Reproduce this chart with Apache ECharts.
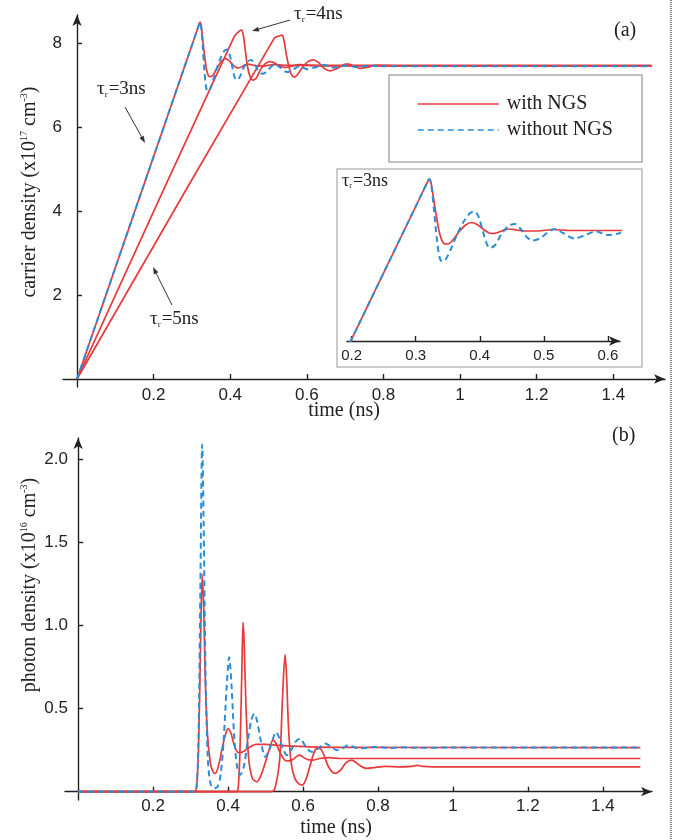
<!DOCTYPE html>
<html><head><meta charset="utf-8">
<script src="https://cdn.jsdelivr.net/npm/echarts@6/dist/echarts.min.js"></script>
<style>html,body{margin:0;padding:0;background:#fff}#c{width:685px;height:840px}</style>
</head><body><div id="c"></div>
<script>
// ---- tick labels ----
const timeTicks = [0.2, 0.4, 0.6, 0.8, 1, 1.2, 1.4];
const insetTicks = [0.2, 0.3, 0.4, 0.5, 0.6];
const carrierTicks = [2, 4, 6, 8];
const photonTicks = [0.5, 1.0, 1.5, 2.0];

// ---- (a) carrier density (x10^17 cm^-3) vs time (ns) ----
const carrier3nsNGS = [[0,0],[0.30,7.95],[0.312,8.27],[0.318,8.43],[0.321,8.5],[0.324,8.42],[0.328,8.1],[0.333,7.7],[0.338,7.38],[0.344,7.21],[0.35,7.2],[0.358,7.28],[0.368,7.45],[0.378,7.58],[0.387,7.63],[0.396,7.59],[0.405,7.5],[0.412,7.44],[0.418,7.41],[0.426,7.42],[0.436,7.47],[0.447,7.5],[0.458,7.48],[0.47,7.46],[0.49,7.46],[0.515,7.49],[0.54,7.47],[0.6,7.47],[0.8,7.47],[1.5,7.47]];
const carrier3nsNoNGS = [[0,0],[0.30,7.95],[0.312,8.27],[0.318,8.43],[0.321,8.5],[0.324,8.4],[0.328,7.95],[0.333,7.3],[0.337,6.95],[0.341,6.85],[0.347,6.9],[0.355,7.1],[0.365,7.4],[0.375,7.65],[0.385,7.82],[0.392,7.85],[0.398,7.75],[0.405,7.45],[0.411,7.2],[0.416,7.12],[0.424,7.18],[0.434,7.4],[0.445,7.56],[0.455,7.6],[0.464,7.5],[0.474,7.33],[0.483,7.27],[0.495,7.32],[0.507,7.44],[0.517,7.5],[0.53,7.42],[0.548,7.31],[0.565,7.38],[0.582,7.45],[0.6,7.38],[0.62,7.42],[0.645,7.48],[0.67,7.42],[0.7,7.47],[0.73,7.43],[0.76,7.46],[0.8,7.45],[1.5,7.45]];
const carrier4nsNGS = [[0,0],[0.41,8.15],[0.422,8.27],[0.429,8.31],[0.434,8.2],[0.439,7.85],[0.445,7.45],[0.452,7.2],[0.46,7.12],[0.468,7.17],[0.478,7.35],[0.49,7.5],[0.503,7.56],[0.515,7.53],[0.53,7.45],[0.545,7.42],[0.56,7.45],[0.58,7.49],[0.6,7.48],[0.63,7.46],[1.5,7.46]];
const carrier5nsNGS = [[0,0],[0.515,8.12],[0.528,8.17],[0.535,8.19],[0.54,8.08],[0.546,7.75],[0.553,7.45],[0.56,7.25],[0.567,7.19],[0.575,7.24],[0.588,7.42],[0.603,7.56],[0.617,7.6],[0.63,7.54],[0.645,7.4],[0.661,7.34],[0.68,7.4],[0.7,7.5],[0.71,7.5],[0.725,7.44],[0.74,7.4],[0.76,7.43],[0.78,7.47],[0.85,7.46],[1.5,7.46]];

// ---- (b) photon density (x10^16 cm^-3) vs time (ns) ----
const photon3nsNGS = [[0,0],[0.31,0],[0.316,0.03],[0.321,0.25],[0.326,0.8],[0.331,1.31],[0.335,1.1],[0.339,0.7],[0.345,0.35],[0.353,0.17],[0.36,0.12],[0.366,0.11],[0.375,0.16],[0.385,0.27],[0.394,0.35],[0.40,0.38],[0.408,0.35],[0.418,0.27],[0.428,0.235],[0.44,0.24],[0.455,0.265],[0.475,0.285],[0.5,0.285],[0.53,0.28],[0.57,0.275],[0.62,0.27],[0.7,0.267],[1.5,0.266]];
const photon3nsNoNGS = [[0,0],[0.31,0],[0.316,0.03],[0.321,0.3],[0.326,1.2],[0.331,2.09],[0.335,1.6],[0.34,0.7],[0.346,0.2],[0.353,0.05],[0.362,0.02],[0.372,0.03],[0.38,0.1],[0.388,0.3],[0.396,0.62],[0.403,0.81],[0.409,0.65],[0.416,0.35],[0.424,0.15],[0.432,0.1],[0.442,0.15],[0.452,0.3],[0.462,0.43],[0.47,0.47],[0.478,0.42],[0.488,0.3],[0.499,0.21],[0.51,0.25],[0.52,0.32],[0.528,0.36],[0.537,0.32],[0.548,0.25],[0.557,0.22],[0.568,0.25],[0.58,0.3],[0.592,0.32],[0.605,0.28],[0.622,0.24],[0.64,0.26],[0.659,0.29],[0.675,0.27],[0.69,0.25],[0.705,0.26],[0.72,0.28],[0.735,0.27],[0.75,0.26],[0.77,0.265],[0.8,0.27],[0.83,0.262],[0.86,0.268],[0.9,0.264],[1.0,0.266],[1.5,0.266]];
const photon4nsNGS = [[0,0],[0.422,0],[0.428,0.05],[0.433,0.35],[0.437,0.75],[0.44,1.02],[0.443,0.9],[0.448,0.5],[0.455,0.2],[0.465,0.08],[0.477,0.06],[0.488,0.1],[0.5,0.18],[0.512,0.27],[0.52,0.31],[0.528,0.29],[0.54,0.23],[0.555,0.185],[0.57,0.19],[0.59,0.22],[0.61,0.195],[0.625,0.19],[0.645,0.2],[0.67,0.205],[0.7,0.2],[1.5,0.2]];
const photon5nsNGS = [[0,0],[0.515,0],[0.525,0.02],[0.538,0.2],[0.545,0.55],[0.552,0.825],[0.556,0.7],[0.561,0.4],[0.568,0.18],[0.578,0.08],[0.59,0.045],[0.598,0.04],[0.607,0.07],[0.618,0.15],[0.63,0.24],[0.64,0.265],[0.652,0.24],[0.668,0.15],[0.685,0.11],[0.7,0.13],[0.715,0.175],[0.73,0.19],[0.75,0.16],[0.77,0.14],[0.79,0.145],[0.82,0.152],[0.86,0.15],[0.89,0.153],[0.905,0.158],[0.92,0.152],[0.95,0.15],[1.5,0.15]];

const RED = '#e8393b', BLUE = '#2a8dd6', INK = '#222';
const SERIF = 'Liberation Serif', SANS = 'Liberation Sans';

const chart = echarts.init(document.getElementById('c'), null, {renderer: 'canvas'});

function axisLineCfg(arrow) {
  return {show: true, onZero: true, symbol: arrow ? ['none', 'arrow'] : ['none','none'], symbolSize: [7, 11], lineStyle: {color: INK, width: 1.4}};
}
function xAxisCfg(grid, min, max, ticks, fs, margin) {
  return {gridIndex: grid, type: 'value', min: min, max: max,
    axisLine: axisLineCfg(true),
    axisTick: {show: true, inside: true, length: 5, customValues: ticks, lineStyle: {color: INK, width: 1.4}},
    axisLabel: {customValues: ticks, margin: margin, color: INK, fontFamily: SANS, fontSize: fs},
    splitLine: {show: false}};
}
function yAxisCfg(grid, min, max, ticks, fmt, margin) {
  return {gridIndex: grid, type: 'value', min: min, max: max,
    axisLine: axisLineCfg(true),
    axisTick: {show: true, inside: true, length: 5, customValues: ticks, lineStyle: {color: INK, width: 1.4}},
    axisLabel: {customValues: ticks, margin: margin, color: INK, fontFamily: SANS, fontSize: 17, formatter: fmt},
    splitLine: {show: false}};
}
function line(name, data, xi, yi, color, dashed) {
  return {type: 'line', name: name, data: data, xAxisIndex: xi, yAxisIndex: yi,
    symbol: 'none', showSymbol: false, smooth: 0.3, clip: true,
    lineStyle: {color: color, width: dashed ? 2 : 1.7, type: dashed ? [6, 4] : 'solid'},
    itemStyle: {color: color}, z: dashed ? 4 : 3, animation: false};
}
function tauText(x, y, label, fs) {
  return {type: 'text', x: x, y: y, z: 50,
    style: {text: '{t|τ}{s|r}{t|=' + label + '}', fill: INK,
      rich: {t: {fontFamily: SERIF, fontSize: fs, fill: INK},
             s: {fontFamily: SERIF, fontSize: Math.round(fs * 0.45), fill: INK, verticalAlign: 'bottom', padding: [0,1,0,0]}}}};
}
function arrow(x1, y1, x2, y2) {
  const a = Math.atan2(y2 - y1, x2 - x1), L = 7, W = 2.5;
  const bx = x2 - L * Math.cos(a), by = y2 - L * Math.sin(a);
  const px = -Math.sin(a) * W, py = Math.cos(a) * W;
  return [
    {type: 'line', z: 50, shape: {x1: x1, y1: y1, x2: bx, y2: by}, style: {stroke: '#333', lineWidth: 1}},
    {type: 'polygon', z: 50, shape: {points: [[x2, y2], [bx + px, by + py], [bx - px, by - py]]}, style: {fill: '#333'}}
  ];
}
function yName(x, y, pre, sup) {
  return {type: 'text', x: x, y: y, rotation: Math.PI / 2, z: 50,
    style: {text: '{n|' + pre + '}{p|' + sup + '}{n| cm}{p|-3}{n|)}', align: 'center', verticalAlign: 'middle',
      rich: {n: {fontFamily: SERIF, fontSize: 20, fill: INK, lineHeight: 22},
             p: {fontFamily: SERIF, fontSize: 10, fill: INK, verticalAlign: 'top', lineHeight: 22}}}};
}

const option = {
  backgroundColor: '#ffffff',
  animation: false,
  grid: [
    {left: 63, right: 20, top: 15, bottom: 453, outerBoundsMode: 'none'},
    {left: 347, right: 65, top: 171, bottom: 499, outerBoundsMode: 'none'},
    {left: 65, right: 33, top: 438, bottom: 40, outerBoundsMode: 'none'}
  ],
  xAxis: [
    xAxisCfg(0, -0.0366, 1.535, timeTicks, 17, 0),
    xAxisCfg(1, 0.1927, 0.619, insetTicks, 15, 7),
    xAxisCfg(2, -0.035, 1.531, timeTicks, 17, -2)
  ],
  yAxis: [
    yAxisCfg(0, -0.19, 8.67, carrierTicks, null, 1),
    {gridIndex: 1, type: 'value', min: 5.26, max: 8.66, show: false},
    yAxisCfg(2, -0.05, 2.13, photonTicks, v => v.toFixed(1), -3)
  ],
  legend: {left: 412, top: 89, orient: 'vertical', itemWidth: 81, itemHeight: 14, itemGap: 6,
    data: ['with NGS', 'without NGS'],
    itemStyle: {opacity: 0},
    lineStyle: {width: 1.5},
    textStyle: {fontFamily: SERIF, fontSize: 20, color: INK, lineHeight: 20, padding: [0, 0, 0, 3]}},
  series: [
    line('with NGS', carrier3nsNGS, 0, 0, RED, false),
    line('with NGS', carrier4nsNGS, 0, 0, RED, false),
    line('with NGS', carrier5nsNGS, 0, 0, RED, false),
    line('without NGS', carrier3nsNoNGS, 0, 0, BLUE, true),
    line('with NGS', carrier3nsNGS, 1, 1, RED, false),
    line('without NGS', carrier3nsNoNGS, 1, 1, BLUE, true),
    line('with NGS', photon3nsNGS, 2, 2, RED, false),
    line('with NGS', photon4nsNGS, 2, 2, RED, false),
    line('with NGS', photon5nsNGS, 2, 2, RED, false),
    line('without NGS', photon3nsNoNGS, 2, 2, BLUE, true)
  ],
  graphic: [
    {type: 'rect', z: 0, shape: {x: 389, y: 75, width: 253, height: 87}, style: {fill: '#fff', stroke: '#aaa', lineWidth: 1.5}},
    {type: 'rect', z: 0, shape: {x: 337, y: 169, width: 305, height: 198}, style: {fill: '#fff', stroke: '#bbb', lineWidth: 1.5}},
    {type: 'line', z: 50, shape: {x1: 671, y1: 0, x2: 671, y2: 840}, style: {stroke: '#000', lineWidth: 1, lineDash: [1, 1]}},
    tauText(97, 80, '3ns', 19),
    tauText(294, 5, '4ns', 19),
    tauText(150, 310, '5ns', 19),
    tauText(342, 172, '3ns', 18),
    ...arrow(125, 107, 145, 143),
    ...arrow(290, 20, 252, 31),
    ...arrow(172, 305, 153, 267),
    {type: 'text', x: 614, y: 21, z: 50, style: {text: '(a)', fontFamily: SERIF, fontSize: 20, fill: INK}},
    {type: 'text', x: 612, y: 426, z: 50, style: {text: '(b)', fontFamily: SERIF, fontSize: 20, fill: INK}},
    {type: 'text', x: 344, y: 411, z: 50, style: {text: 'time (ns)', fontFamily: SERIF, fontSize: 20, fill: INK, align: 'center', verticalAlign: 'middle'}},
    {type: 'text', x: 336, y: 828, z: 50, style: {text: 'time (ns)', fontFamily: SERIF, fontSize: 20, fill: INK, align: 'center', verticalAlign: 'middle'}},
    yName(30, 192, 'carrier density (x10', '17'),
    yName(30, 585, 'photon density (x10', '16')
  ]
};
chart.setOption(option);
</script></body></html>
